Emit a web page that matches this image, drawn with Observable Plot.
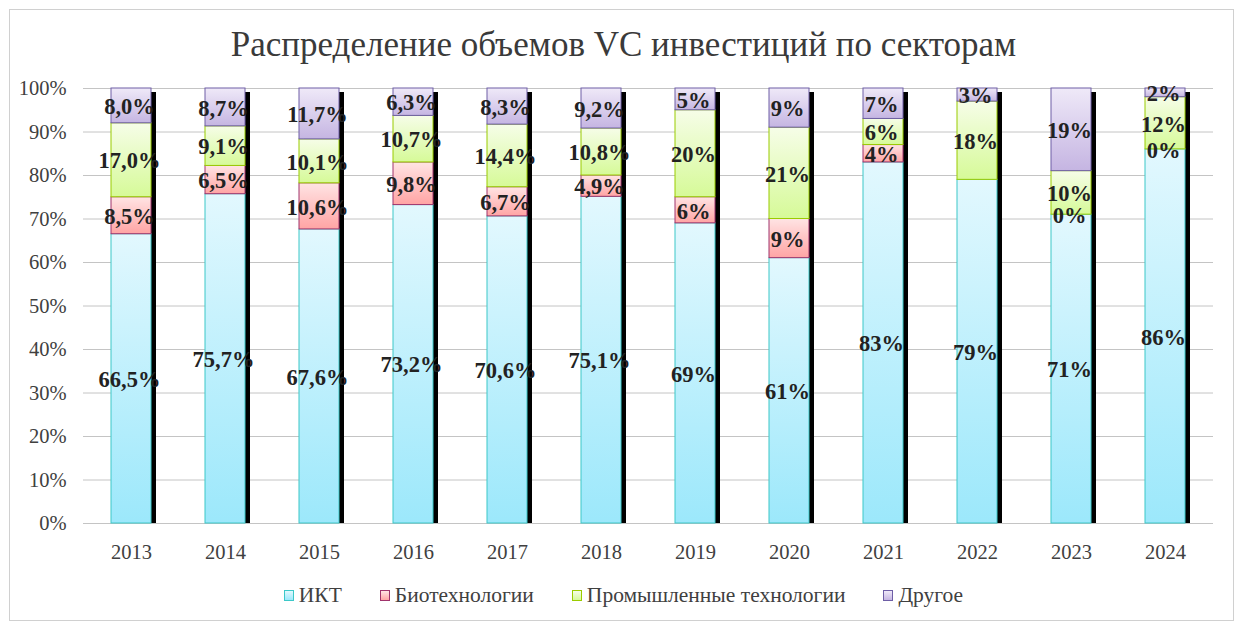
<!DOCTYPE html>
<html>
<head>
<meta charset="utf-8">
<script src="https://cdn.jsdelivr.net/npm/d3@7"></script>
<script src="https://cdn.jsdelivr.net/npm/@observablehq/plot@0.6"></script>
<style>
  html, body { margin: 0; padding: 0; background: #fff; }
  #frame { position: absolute; left: 9px; top: 9px; width: 1225px; height: 612px; border: 1px solid #d0d0d0; box-sizing: border-box; }
  #title { position: absolute; left: 0; top: 25px; width: 1247px; text-align: center; font-family: "Liberation Serif", serif; font-size: 35px; line-height: 40px; color: #3a3a3a; }
  #chart { position: absolute; left: 0; top: 70px; }
  #legend { position: absolute; left: 0; top: 583px; width: 1247px; display: flex; justify-content: center; font-family: "Liberation Serif", serif; font-size: 21.5px; line-height: 24px; color: #404040; }
  .item { display: flex; align-items: center; margin: 0 19px; }
  .sw { width: 10px; height: 11px; box-sizing: border-box; border: 1px solid; margin-right: 5px; }
</style>
</head>
<body>
<svg width="0" height="0" style="position:absolute">
  <defs>
    <linearGradient id="g0" x1="0" y1="0" x2="0" y2="1"><stop offset="0" stop-color="#e2f8fe"/><stop offset="1" stop-color="#9ce8fb"/></linearGradient>
    <linearGradient id="g1" x1="0" y1="0" x2="0" y2="1"><stop offset="0" stop-color="#ffe4e4"/><stop offset="1" stop-color="#ffa4a4"/></linearGradient>
    <linearGradient id="g2" x1="0" y1="0" x2="0" y2="1"><stop offset="0" stop-color="#f6fde8"/><stop offset="1" stop-color="#d6fa98"/></linearGradient>
    <linearGradient id="g3" x1="0" y1="0" x2="0" y2="1"><stop offset="0" stop-color="#efe9f8"/><stop offset="1" stop-color="#c5b5e2"/></linearGradient>
  </defs>
</svg>
<div id="frame"></div>
<div id="title">Распределение объемов VC инвестиций по секторам</div>
<div id="chart"></div>
<div id="legend"></div>
<script>
const years = ["2013","2014","2015","2016","2017","2018","2019","2020","2021","2022","2023","2024"];
const sectors = ["ИКТ", "Биотехнологии", "Промышленные технологии", "Другое"];
const ikt   = [66.5, 75.7, 67.6, 73.2, 70.6, 75.1, 69, 61, 83, 79, 71, 86];
const bio   = [8.5, 6.5, 10.6, 9.8, 6.7, 4.9, 6, 9, 4, null, 0, 0];
const prom  = [17.0, 9.1, 10.1, 10.7, 14.4, 10.8, 20, 21, 6, 18, 10, 12];
const other = [8.0, 8.7, 11.7, 6.3, 8.3, 9.2, 5, 9, 7, 3, 19, 2];
const yTicks = [0, 10, 20, 30, 40, 50, 60, 70, 80, 90, 100];

const fills = ["url(#g0)", "url(#g1)", "url(#g2)", "url(#g3)"];
const strokes = ["#3cc8c8", "#a0346c", "#9acc00", "#6e5ea6"];
const grads = [["#e2f8fe","#9ce8fb"],["#ffe4e4","#ffa4a4"],["#f6fde8","#d6fa98"],["#efe9f8","#c5b5e2"]];

const series = [ikt, bio, prom, other];
const rows = [];
series.forEach((vals, si) => {
  vals.forEach((v, i) => {
    const yr = years[i];
    let label = "";
    if (v != null) label = (+yr <= 2018 ? v.toFixed(1).replace(".", ",") : String(Math.round(v))) + "%";
    rows.push({year: yr, sector: sectors[si], value: v ?? 0, label, fill: fills[si], stroke: strokes[si]});
  });
});
const totals = years.map((y, i) => ({year: y, total: series.reduce((s, a) => s + (a[i] ?? 0), 0)}));

const chart = Plot.plot({
  width: 1247,
  height: 500,
  marginLeft: 83,
  marginRight: 34,
  marginTop: 18,
  marginBottom: 47,
  style: {fontFamily: "Liberation Serif, serif", fontSize: "20px", color: "#404040", background: "transparent"},
  x: {domain: years, paddingInner: 0.575, paddingOuter: 0.2875, label: null},
  y: {domain: [0, 100], label: null},
  color: {type: "identity"},
  marks: [
    Plot.ruleY(yTicks, {stroke: "#c4c4c4", strokeWidth: 1}),
    Plot.barY(totals, {x: "year", y1: 0, y2: "total", fill: "#000", dx: 5, insetTop: 4}),
    Plot.barY(rows, Plot.stackY({x: "year", y: "value", z: "sector", fill: "fill", stroke: "stroke", strokeWidth: 1})),
    Plot.text(rows, Plot.stackY({x: "year", y: "value", z: "sector", text: "label", fontWeight: "bold", fontSize: 22.5, fill: "#222", dx: -2, dy: 1})),
    Plot.axisY({ticks: yTicks, tickSize: 0, tickPadding: 17, tickFormat: d => d + "%", fontSize: 20.5}),
    Plot.axisX({tickSize: 0, tickPadding: 21, fontSize: 20.5})
  ]
});
document.getElementById("chart").appendChild(chart);

const legend = document.getElementById("legend");
sectors.forEach((s, i) => {
  const it = document.createElement("div");
  it.className = "item";
  const sw = document.createElement("div");
  sw.className = "sw";
  sw.style.borderColor = strokes[i];
  sw.style.background = `linear-gradient(${grads[i][0]}, ${grads[i][1]})`;
  const tx = document.createElement("span");
  tx.textContent = s;
  it.appendChild(sw); it.appendChild(tx);
  legend.appendChild(it);
});
</script>
</body>
</html>
